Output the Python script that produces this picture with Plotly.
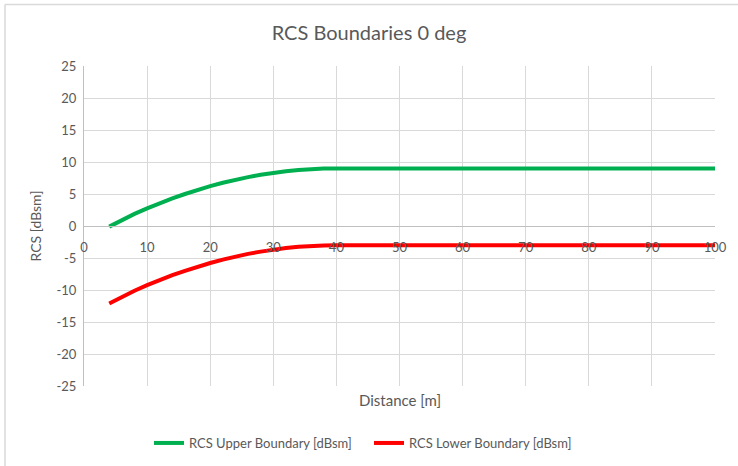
import plotly.graph_objects as go

# Data
distance = [4, 6, 8, 10, 12, 14, 16, 18, 20, 22, 24, 26, 28, 30, 32, 34, 36, 38, 40,
            50, 60, 70, 80, 90, 100]
upper = [-0.1, 0.97, 1.89, 2.75, 3.56, 4.31, 5.0, 5.64, 6.22, 6.75, 7.22, 7.64, 8.0,
         8.31, 8.56, 8.75, 8.89, 8.97, 9.0, 9.0, 9.0, 9.0, 9.0, 9.0, 9.0]
lower = [-12.1, -11.03, -10.11, -9.25, -8.44, -7.69, -7.0, -6.36, -5.78, -5.25, -4.78,
         -4.36, -4.0, -3.69, -3.44, -3.25, -3.11, -3.03, -3.0, -3.0, -3.0, -3.0, -3.0,
         -3.0, -3.0]
x_ticks = [0, 10, 20, 30, 40, 50, 60, 70, 80, 90, 100]
y_ticks = [25, 20, 15, 10, 5, 0, -5, -10, -15, -20, -25]

FONT = "Lato"
GREY = "#595959"

fig = go.Figure()
fig.add_trace(go.Scatter(x=distance, y=upper, mode="lines",
                         name="RCS Upper Boundary [dBsm]",
                         line=dict(color="#00b050", width=4, shape="linear")))
fig.add_trace(go.Scatter(x=distance, y=lower, mode="lines",
                         name="RCS Lower Boundary [dBsm]",
                         line=dict(color="#ff0000", width=4, shape="linear")))

W, H = 738, 466
L, R, T, B = 84, 23, 66, 80
pw, ph = W - L - R, H - T - B

def px_to_paper_x(px):
    return (px - L) / pw

def px_to_paper_y(py):
    return (H - B - py) / ph

fig.update_layout(
    width=W, height=H,
    margin=dict(l=L, r=R, t=T, b=B, autoexpand=False),
    paper_bgcolor="white", plot_bgcolor="white",
    font=dict(family=FONT, color=GREY, size=13),
    title=dict(text="RCS Boundaries 0 deg", x=0.5, xref="container", xanchor="center",
               y=1 - 33 / H, yref="container", yanchor="middle",
               font=dict(size=20, color=GREY, family=FONT)),
    showlegend=True,
    legend=dict(orientation="h", x=0.5, xref="container", xanchor="center",
                y=1 - 443 / H, yref="container", yanchor="middle",
                font=dict(size=13, color=GREY, family=FONT),
                itemwidth=30, tracegroupgap=0,
                entrywidth=175, entrywidthmode="pixels"),
    xaxis=dict(range=[0, 100], tickvals=x_ticks, ticktext=[str(v) for v in x_ticks],
               showgrid=True, gridcolor="#d9d9d9", gridwidth=1,
               zeroline=False, showline=True, linecolor="#bfbfbf", linewidth=1,
               anchor="free", position=0.5, ticks="", ticklabelstandoff=9,
               tickfont=dict(size=13, color=GREY), fixedrange=True),
    yaxis=dict(range=[-25, 25], tickvals=y_ticks, ticktext=[str(v) for v in y_ticks],
               showgrid=True, gridcolor="#d9d9d9", gridwidth=1,
               zeroline=False, showline=True, linecolor="#bfbfbf", linewidth=1,
               ticks="", ticklabelstandoff=4,
               title=dict(text="RCS [dBsm]", font=dict(size=14, color=GREY), standoff=11),
               tickfont=dict(size=13, color=GREY), fixedrange=True),
    annotations=[dict(text="Distance [m]", x=0.5, y=px_to_paper_y(400), xref="paper",
                      yref="paper", showarrow=False, xanchor="center",
                      yanchor="middle", font=dict(size=15, color=GREY, family=FONT))],
    shapes=[
        dict(type="line", xref="paper", yref="paper",
             x0=px_to_paper_x(5), x1=px_to_paper_x(W + 5),
             y0=px_to_paper_y(4.5), y1=px_to_paper_y(4.5),
             line=dict(color="#d9d9d9", width=1.5)),
        dict(type="line", xref="paper", yref="paper",
             x0=px_to_paper_x(5), x1=px_to_paper_x(5),
             y0=px_to_paper_y(4.5), y1=px_to_paper_y(H + 5),
             line=dict(color="#d9d9d9", width=1.5)),
    ],
)

fig.write_html("out.html", config={"displayModeBar": False},
               post_script="document.body.style.margin='0';document.body.style.overflow='hidden';")
